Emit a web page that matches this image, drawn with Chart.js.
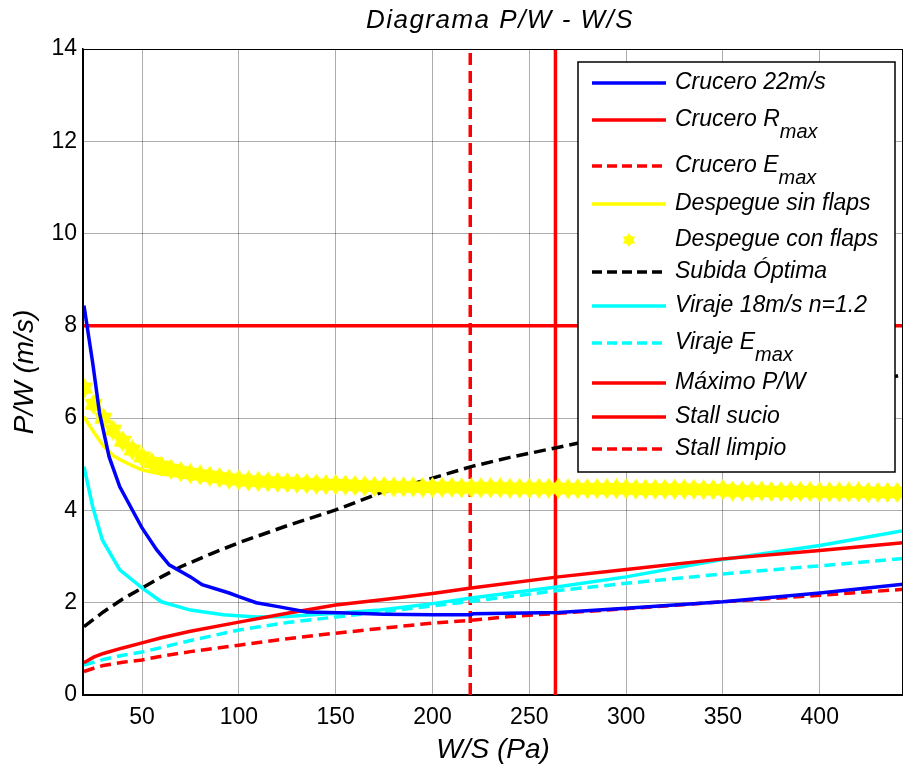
<!DOCTYPE html>
<html>
<head>
<meta charset="utf-8">
<script src="https://cdn.jsdelivr.net/npm/chart.js@4.4.0/dist/chart.umd.min.js"></script>
<style>
    body { margin: 0; background: #fff; }
    #wrap { width: 903px; height: 767px; }
</style>
</head>
<body>
<div id="wrap"><canvas id="chart" width="903" height="767"></canvas></div>
<script>
// W/S (Pa) on x, P/W (m/s) on y
const cruceroX = [20, 24.5, 28, 33, 38.5, 50, 57.5, 64, 75, 81, 95, 100, 109, 121, 135, 152, 175, 200, 220, 221, 265, 300, 350, 400, 443];
const cruceroY = [8.44, 7.20, 6.12, 5.16, 4.51, 3.62, 3.15, 2.82, 2.56, 2.39, 2.21, 2.13, 2.00, 1.91, 1.80, 1.78, 1.75, 1.74, 1.74, 1.76, 1.79, 1.88, 2.02, 2.21, 2.40];

const rmaxX = [20, 25, 30, 40, 50, 60, 75, 100, 125, 150, 175, 200, 220, 265, 300, 350, 400, 443];
const rmaxY = [0.70, 0.82, 0.90, 1.02, 1.13, 1.24, 1.38, 1.58, 1.77, 1.95, 2.07, 2.20, 2.32, 2.56, 2.72, 2.95, 3.13, 3.30];

const emaxX = [20, 25, 30, 40, 50, 60, 75, 100, 125, 150, 175, 200, 220, 240, 265, 300, 350, 400, 443];
const emaxY = [0.51, 0.58, 0.64, 0.71, 0.76, 0.84, 0.94, 1.08, 1.22, 1.34, 1.45, 1.56, 1.62, 1.70, 1.77, 1.87, 2.02, 2.16, 2.29];

const sinFlapsX = [20, 25, 30, 35, 40, 45, 50, 55, 60, 65, 70, 80, 90, 100, 120, 150, 200, 300, 443];
const sinFlapsY = [6.03, 5.70, 5.40, 5.19, 5.07, 4.97, 4.88, 4.83, 4.79, 4.77, 4.74, 4.69, 4.64, 4.60, 4.55, 4.50, 4.46, 4.43, 4.38];

const conFlapsX = [20, 25, 30, 35, 40, 45, 50, 55, 60, 65, 70, 75, 80, 85, 90, 95, 100, 105, 110, 115, 120, 125, 130, 135, 140, 145,
    150, 155, 160, 165, 170, 175, 180, 185, 190, 195, 200, 205, 210, 215, 220, 225, 230, 235, 240, 245, 250, 255, 260, 265, 270,
    275, 280, 285, 290, 295, 300, 305, 310, 315, 320, 325, 330, 335, 340, 345, 350, 355, 360, 365, 370, 375, 380, 385, 390, 395,
    400, 405, 410, 415, 420, 425, 430, 435, 440];
const conFlapsY = [6.65, 6.30, 6.00, 5.74, 5.50, 5.31, 5.16, 5.04, 4.96, 4.89, 4.84, 4.80, 4.77, 4.74, 4.71, 4.68, 4.66, 4.64, 4.63, 4.62,
    4.61, 4.60, 4.59, 4.58, 4.57, 4.56, 4.56, 4.55, 4.54, 4.53, 4.52, 4.52, 4.51, 4.51, 4.51, 4.50, 4.50, 4.50, 4.50, 4.49, 4.49,
    4.49, 4.49, 4.49, 4.48, 4.48, 4.48, 4.48, 4.48, 4.48, 4.47, 4.47, 4.47, 4.47, 4.47, 4.47, 4.47, 4.46, 4.46, 4.46, 4.46, 4.46,
    4.46, 4.46, 4.45, 4.45, 4.45, 4.42, 4.42, 4.42, 4.42, 4.41, 4.41, 4.41, 4.41, 4.41, 4.40, 4.40, 4.40, 4.40, 4.40, 4.39, 4.39,
    4.39, 4.39];

const subidaX = [20, 30, 40, 50, 60, 70, 85, 100, 125, 150, 173, 200, 220, 240, 264, 280, 320, 360, 400, 443];
const subidaY = [1.48, 1.80, 2.08, 2.32, 2.56, 2.78, 3.05, 3.30, 3.67, 4.01, 4.38, 4.70, 4.95, 5.15, 5.36, 5.50, 5.85, 6.20, 6.55, 6.94];

const virajeX = [20, 24.5, 29.5, 38.5, 50, 60, 75, 92, 109, 125, 138, 150, 173, 200, 220, 264, 300, 349, 400, 443];
const virajeY = [4.95, 4.08, 3.36, 2.71, 2.32, 2.02, 1.84, 1.74, 1.69, 1.70, 1.74, 1.77, 1.84, 1.98, 2.10, 2.34, 2.56, 2.93, 3.24, 3.56];

const virajeEmaxX = [20, 30, 40, 50, 75, 100, 125, 150, 173, 200, 220, 264, 300, 349, 400, 443];
const virajeEmaxY = [0.65, 0.77, 0.86, 0.93, 1.18, 1.41, 1.57, 1.69, 1.80, 1.93, 2.03, 2.26, 2.42, 2.62, 2.80, 2.96];

const maximoPW = 8;
const stallSucio = 263.5;
const stallLimpio = 219.5;

const xMin = 19.5;
const xMax = 443;
const xTicks = [50, 100, 150, 200, 250, 300, 350, 400];

const FONT = '"Liberation Sans", Arial, sans-serif';

function pts(xs, ys) {
    return xs.map((x, i) => ({ x: x, y: ys[i] }));
}

// hexagram marker like matlab's
function makeStar(size, color) {
    const c = document.createElement('canvas');
    c.width = size;
    c.height = size;
    const g = c.getContext('2d');
    const r = size / 2;
    g.fillStyle = color;
    g.beginPath();
    for (let k = 0; k < 12; k++) {
        const a = -Math.PI / 2 + k * Math.PI / 6;
        const rr = k % 2 === 0 ? r : r * 0.62;
        const px = r + rr * Math.cos(a);
        const py = r + rr * Math.sin(a);
        if (k === 0) g.moveTo(px, py); else g.lineTo(px, py);
    }
    g.closePath();
    g.fill();
    return c;
}

const star = makeStar(21, '#ffff00');
const legendStar = makeStar(14, '#ffff00');

function line(label, sub, data, color, dash) {
    return {
        label: label,
        sub: sub,
        data: data,
        showLine: true,
        borderColor: color,
        backgroundColor: color,
        borderWidth: 3.5,
        borderDash: dash || [],
        pointRadius: 0,
        fill: false
    };
}

const datasets = [
    line('Crucero 22m/s', null, pts(cruceroX, cruceroY), '#0000ff'),
    line('Crucero R', 'max', pts(rmaxX, rmaxY), '#ff0000'),
    line('Crucero E', 'max', pts(emaxX, emaxY), '#ff0000', [11, 6]),
    line('Despegue sin flaps', null, pts(sinFlapsX, sinFlapsY), '#ffff00'),
    {
        label: 'Despegue con flaps',
        data: pts(conFlapsX, conFlapsY),
        showLine: false,
        pointStyle: star,
        pointRadius: 10,
        marker: true
    },
    line('Subida Óptima', null, pts(subidaX, subidaY), '#000000', [12, 6]),
    line('Viraje 18m/s n=1.2', null, pts(virajeX, virajeY), '#00ffff'),
    line('Viraje E', 'max', pts(virajeEmaxX, virajeEmaxY), '#00ffff', [11, 6]),
    line('Máximo P/W', null, [{ x: xMin, y: maximoPW }, { x: xMax, y: maximoPW }], '#ff0000'),
    line('Stall sucio', null, [{ x: stallSucio, y: 0 }, { x: stallSucio, y: 14 }], '#ff0000'),
    line('Stall limpio', null, [{ x: stallLimpio, y: 0 }, { x: stallLimpio, y: 14 }], '#ff0000', [12, 6])
];

// title, box, and the legend that sits inside the axes
const matlabPlugin = {
    id: 'matlab',
    afterDraw(c) {
        const ctx = c.ctx;
        const a = c.chartArea;
        ctx.save();

        ctx.strokeStyle = '#000';
        ctx.lineWidth = 1;
        ctx.strokeRect(a.left + 0.5, a.top + 0.5, a.right - a.left - 1, a.bottom - a.top);

        ctx.fillStyle = '#000';
        ctx.font = 'italic 26px ' + FONT;
        ctx.letterSpacing = '1.5px';
        ctx.textAlign = 'center';
        ctx.textBaseline = 'middle';
        ctx.fillText('Diagrama P/W - W/S', 500, 21);
        ctx.letterSpacing = '0px';

        // legend box
        const bx = 578, by = 62, bw = 317, bh = 410;
        ctx.fillStyle = '#fff';
        ctx.fillRect(bx, by, bw, bh);
        ctx.strokeStyle = '#000';
        ctx.lineWidth = 1.5;
        ctx.strokeRect(bx, by, bw, bh);

        const rowY = [83, 120, 166, 204, 240, 272, 306, 343, 383, 417, 449];
        c.data.datasets.forEach((ds, i) => {
            const y = rowY[i];
            if (ds.marker) {
                ctx.drawImage(legendStar, 629 - 7, y - 7);
            } else {
                ctx.beginPath();
                ctx.strokeStyle = ds.borderColor;
                ctx.lineWidth = 3.5;
                ctx.setLineDash(ds.borderDash.length ? [10, 5] : []);
                ctx.moveTo(592, y);
                ctx.lineTo(666, y);
                ctx.stroke();
                ctx.setLineDash([]);
            }
            ctx.fillStyle = '#000';
            ctx.textAlign = 'left';
            ctx.textBaseline = 'middle';
            ctx.font = 'italic 23px ' + FONT;
            ctx.fillText(ds.label, 675, y);
            if (ds.sub) {
                const w = ctx.measureText(ds.label).width;
                ctx.font = 'italic 20px ' + FONT;
                ctx.fillText(ds.sub, 675 + w, y + 12);
            }
        });
        ctx.restore();
    }
};

new Chart(document.getElementById('chart'), {
    type: 'scatter',
    data: { datasets: datasets },
    options: {
        responsive: false,
        animation: false,
        layout: { autoPadding: false, padding: { top: 49, right: 0, left: 0, bottom: 0 } },
        plugins: {
            legend: { display: false },
            tooltip: { enabled: false },
            title: { display: false }
        },
        scales: {
            x: {
                type: 'linear',
                min: xMin,
                max: xMax,
                afterBuildTicks: s => { s.ticks = xTicks.map(v => ({ value: v })); },
                afterFit: s => { s.height = 72; s.paddingLeft = 0; s.paddingRight = 0; },
                grid: { color: 'rgba(0,0,0,0.32)', lineWidth: 1, drawTicks: false },
                border: { display: true, color: '#000', width: 1.5 },
                ticks: { color: '#000', font: { family: FONT, size: 23 }, padding: 9, maxRotation: 0 },
                title: {
                    display: true,
                    text: 'W/S (Pa)',
                    color: '#000',
                    font: { family: FONT, size: 28, style: 'italic' },
                    padding: { top: 0, bottom: 0 }
                }
            },
            y: {
                min: 0,
                max: 14,
                afterFit: s => { s.width = 83; s.paddingTop = 0; s.paddingBottom = 0; },
                grid: { color: 'rgba(0,0,0,0.32)', lineWidth: 1, drawTicks: false },
                border: { display: true, color: '#000', width: 1.5 },
                ticks: { stepSize: 2, color: '#000', font: { family: FONT, size: 23 }, padding: 6 },
                title: {
                    display: true,
                    text: 'P/W (m/s)',
                    color: '#000',
                    font: { family: FONT, size: 28, style: 'italic' },
                    padding: { top: 8, bottom: 0 }
                }
            }
        }
    },
    plugins: [matlabPlugin]
});
</script>
</body>
</html>
